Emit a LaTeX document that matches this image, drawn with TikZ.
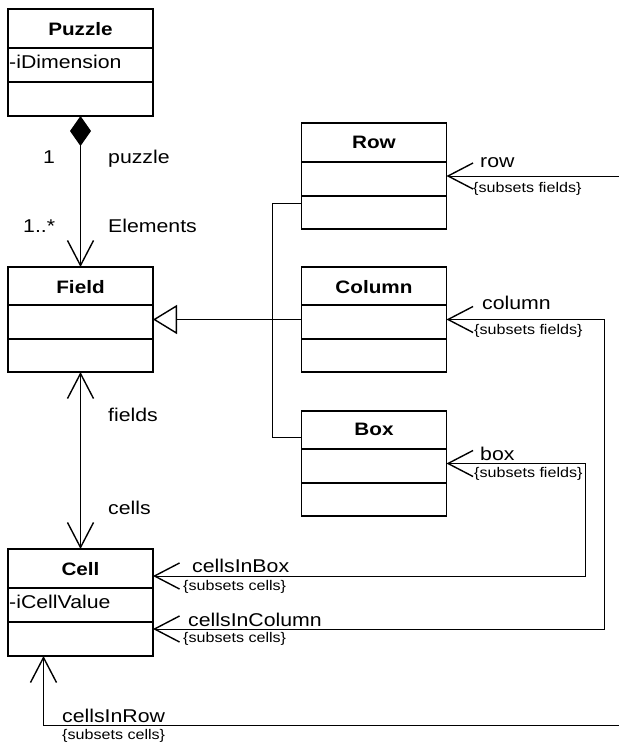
\documentclass[tikz,border=0pt]{standalone}
\usepackage{fontspec}
\setmainfont[FakeStretch=1.15]{Liberation Sans}
\usetikzlibrary{arrows.meta}
\tikzset{
  classbox/.style={draw, line width=1.6pt, inner sep=0pt, outer sep=0pt, minimum width=145pt},
  divider/.style={line width=1.6pt},
  conn/.style={line width=1pt},
  barb/.tip={Straight Barb[length=25pt,width=26pt,line width=1.4pt]},
  lbl/.style={anchor=base west, inner sep=0pt, font=\fontsize{18.5}{20}\selectfont},
  small/.style={anchor=west, inner sep=0pt, font=\fontsize{14}{16}\selectfont},
  title/.style={anchor=base, inner sep=0pt, font=\fontsize{18}{20}\selectfont\bfseries},
}
\begin{document}
\begin{tikzpicture}[x=1pt,y=-1pt]
\useasboundingbox (0,0) rectangle (619,745);

% classes
\node[classbox, minimum height=107pt] (puzzle) at (80.5,62.5) {};
\draw[divider] (8,48) -- (153,48);
\draw[divider] (8,82) -- (153,82);
\node[title] (tpuzzle) at (80.5,35) {Puzzle};
\node[lbl, inner xsep=1pt] (apuzzle) at (8,68) {-iDimension};

\node[classbox, minimum height=105pt] (field) at (80.5,319.5) {};
\draw[divider] (8,305) -- (153,305);
\draw[divider] (8,339) -- (153,339);
\node[title] (tfield) at (80.5,293) {Field};

\node[classbox, minimum height=107pt] (cell) at (80.5,602.5) {};
\draw[divider] (8,588) -- (153,588);
\draw[divider] (8,622) -- (153,622);
\node[title] (tcell) at (80.5,575) {Cell};
\node[lbl, inner xsep=1pt] (acell) at (8,608) {-iCellValue};

\node[classbox, minimum height=106pt] (row) at (374,176) {};
\draw[divider] (301.5,162) -- (446.5,162);
\draw[divider] (301.5,196) -- (446.5,196);
\node[title] (trow) at (374,148) {Row};

\node[classbox, minimum height=105pt] (column) at (374,319.5) {};
\draw[divider] (301.5,305) -- (446.5,305);
\draw[divider] (301.5,339) -- (446.5,339);
\node[title] (tcolumn) at (374,293) {Column};

\node[classbox, minimum height=105pt] (box) at (374,463.5) {};
\draw[divider] (301.5,449) -- (446.5,449);
\draw[divider] (301.5,483) -- (446.5,483);
\node[title] (tbox) at (374,435) {Box};

% composition Puzzle - Field
\draw[conn, {Diamond[length=30pt,width=21pt]}-barb] (puzzle.south) -- (field.north);
\node[lbl] (m1) at (43,163) {1};
\node[lbl] (rpuzzle) at (108,163) {puzzle};
\node[lbl] (m2) at (23,232) {1..*};
\node[lbl] (relem) at (108,232) {Elements};

% Field - Cell
\draw[conn, barb-barb] (field.south) -- (cell.north);
\node[lbl] (rfields) at (108,421) {fields};
\node[lbl] (rcells) at (108,514) {cells};

% generalization
\draw[conn, -{Triangle[open,length=24pt,width=29pt,line width=1.4pt]}] (column.west) -- (field.east);
\draw[conn] ([yshift=-27pt]row.west) -- ++(-29,0) |- ([yshift=26.5pt]box.west);

% Row association
\coordinate (rowfree) at (619,176);
\draw[conn, -barb] (rowfree) -- (row.east);
\node[lbl] (lrow) at (480,167) {row};
\node[small] (srow) at (473,189) {\{subsets fields\}};

% Column association
\draw[conn, barb-barb] (column.east) -| (604,629) -- ([yshift=-26.5pt]cell.east);
\node[lbl] (lcolumn) at (482,309) {column};
\node[small] (scolumn) at (474,331) {\{subsets fields\}};
\node[lbl] (lcic) at (188,626) {cellsInColumn};
\node[small] (scic) at (183,639) {\{subsets cells\}};

% Box association
\draw[conn, barb-barb] (box.east) -| (585,576) -- ([yshift=26.5pt]cell.east);
\node[lbl] (lbox) at (480,460) {box};
\node[small] (sbox) at (474,474) {\{subsets fields\}};
\node[lbl] (lcib) at (192,572) {cellsInBox};
\node[small] (scib) at (183,587) {\{subsets cells\}};

% cellsInRow
\coordinate (cirfree) at (619,725);
\draw[conn, -barb] (cirfree) -| ([xshift=-37pt]cell.south);
\node[lbl] (lcir) at (62,722) {cellsInRow};
\node[small] (scir) at (62,736) {\{subsets cells\}};
\end{tikzpicture}
\end{document}
